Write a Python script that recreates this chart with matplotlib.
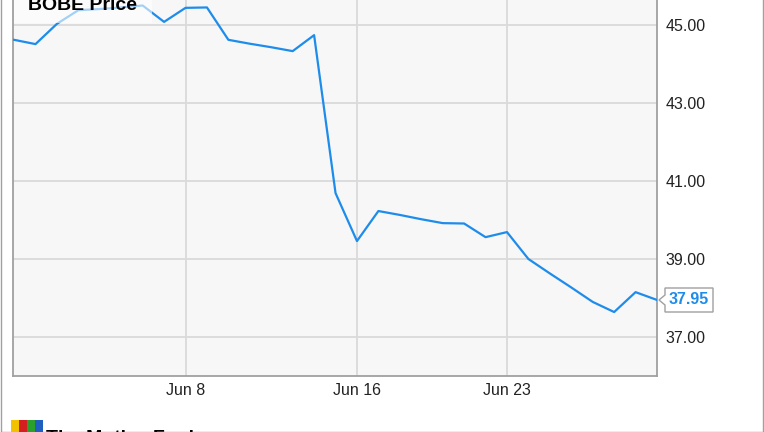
import numpy as np
import pandas as pd
import matplotlib.pyplot as plt
import matplotlib.dates as mdates
from matplotlib.patches import Polygon, Rectangle

plt.rcParams['font.family'] = ['Liberation Sans', 'DejaVu Sans']

# daily closes, May 31 - Jun 30
dates = pd.date_range("2015-05-31", "2015-06-30", freq="D")
price = [44.62, 44.51, 45.03, 45.38, 45.41, 45.45, 45.50, 45.08, 45.44, 45.45,
         44.62, 44.52, 44.43, 44.33, 44.74, 40.69, 39.46, 40.23, 40.13, 40.02,
         39.92, 39.91, 39.56, 39.69, 39.00, 38.63, 38.27, 37.90, 37.64, 38.15,
         37.95]
tick_dates = pd.to_datetime(["2015-06-08", "2015-06-16", "2015-06-23"])
tick_labels = ["Jun 8", "Jun 16", "Jun 23"]
y_ticks = [37, 39, 41, 43, 45]
last_label = "37.95"

W, H = 764, 432
blue = "#1e8ceb"

fig = plt.figure(figsize=(W/100, H/100), dpi=100)
fig.patch.set_facecolor("white")
ax = fig.add_axes([13/W, (H-376)/H, 644/W, 376/H])
ax.set_facecolor("#f7f7f7")

ax.plot(dates, price, color=blue, linewidth=1.6, zorder=3)

ax.set_xlim(dates[0] - pd.Timedelta(hours=1.2), dates[-1])
ax.set_ylim(36.0, 45.0 + 25/39)

ax.set_xticks(tick_dates)
ax.set_xticklabels(tick_labels)
ax.set_yticks(y_ticks)
ax.set_yticklabels(["%.2f" % v for v in y_ticks])
ax.yaxis.tick_right()
ax.tick_params(axis="both", length=0, labelsize=11.5, colors="#222222")
ax.tick_params(axis="x", pad=5)
ax.tick_params(axis="y", pad=6)

ax.grid(True, color="#dadada", linewidth=1.3)
ax.set_axisbelow(True)
for s in ["left", "bottom", "right"]:
    ax.spines[s].set_color("#a0a0a0")
    ax.spines[s].set_linewidth(1.3)
ax.spines["top"].set_visible(False)

def px(x, y):
    return (x/W, 1 - y/H)

# title box, partly cut at the top
fig.patches.append(Rectangle(px(14, 23), 138/W, 23/H, transform=fig.transFigure,
                             facecolor="white", alpha=0.6, edgecolor="none", zorder=4))
fig.text(*px(28, 10), "BOBE Price", fontsize=14, fontweight="bold",
         va="baseline", ha="left", color="black", zorder=5)

# last value flag
flag = [px(665, 288), px(713, 288), px(713, 312), px(665, 312),
        px(665, 305), px(659, 300), px(665, 295)]
fig.patches.append(Polygon(flag, closed=True, transform=fig.transFigure,
                           facecolor="white", edgecolor="#a0a0a0", linewidth=1))
fig.text(*px(689, 300), last_label, fontsize=11.5, fontweight="bold", color=blue,
         ha="center", va="center")

# outer frame
fig.patches.append(Rectangle((1/W, 0), 762/W, 1.2, transform=fig.transFigure,
                             facecolor="none", edgecolor="#a0a0a0", linewidth=1))

# footer logos, cut at the bottom
logo_cols = ["#f2c200", "#d62020", "#2ca02c", "#1f5fbf"]
for i, c in enumerate(logo_cols):
    fig.patches.append(Rectangle(px(11 + i*8, 432), 8/W, 12/H, transform=fig.transFigure,
                                 facecolor=c, edgecolor="none"))
fig.text(*px(46, 430), "The Motley Fool", fontsize=14, fontweight="bold",
         va="top", ha="left", color="black")
fig.text(*px(616, 431), "YCHARTS", fontsize=22, fontweight="bold",
         va="top", ha="left", color="#1565c0")

fig.savefig("out.png", dpi=100)
